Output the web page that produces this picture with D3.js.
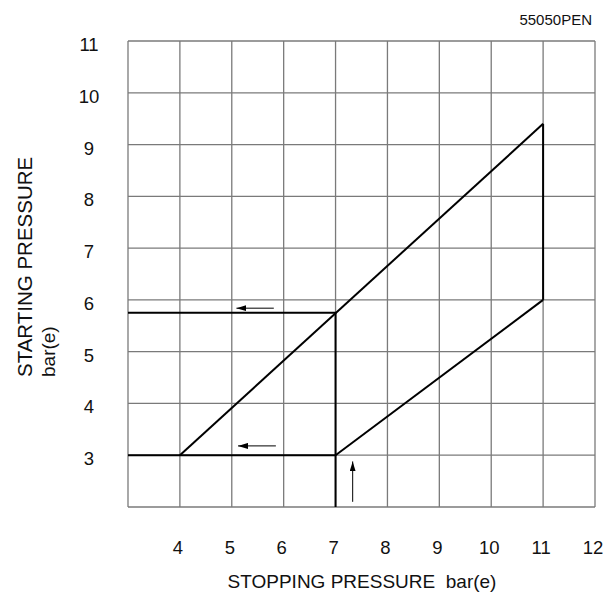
<!DOCTYPE html>
<html>
<head>
<meta charset="utf-8">
<script src="https://cdn.jsdelivr.net/npm/d3@7"></script>
<style>
  body { margin: 0; background: #fff; }
  text { font-family: Arial, "Liberation Sans", sans-serif; fill: #111; }
</style>
</head>
<body>
<div id="theChart"></div>
<script>
// values
const xTicks = [4, 5, 6, 7, 8, 9, 10, 11, 12]
const yTicks = [3, 4, 5, 6, 7, 8, 9, 10, 11]
const gridX = [3, 4, 5, 6, 7, 8, 9, 10, 11, 12]
const gridY = [2, 3, 4, 5, 6, 7, 8, 9, 10, 11]

const startLine = [[4, 3], [11, 9.4]]
const stopLine = [[7, 3], [11, 6]]
const maxStopLine = [[11, 6], [11, 9.4]]
const minStartLine = [[3, 3], [7, 3]]
const exampleLine = [[3, 5.75], [7, 5.75], [7, 2]]

// arrows: [x1, y1] -> [x2, y2] (head at second point)
const arrows = [
	[[5.81, 5.84], [5.09, 5.84]],
	[[5.85, 3.18], [5.12, 3.18]],
	[[7.33, 2.1], [7.33, 2.88]],
]

const w = 610
const h = 599

const svg = d3
	.select("#theChart")
	.append("svg")
	.attr("width", w)
	.attr("height", h)

const x = d3.scaleLinear().domain([3, 12]).range([128, 595])
const y = d3.scaleLinear().domain([2, 11]).range([507, 41])

svg.append("defs")
	.append("marker")
	.attr("id", "head")
	.attr("viewBox", "0 0 10 6")
	.attr("refX", 10)
	.attr("refY", 3)
	.attr("markerWidth", 10)
	.attr("markerHeight", 6)
	.attr("markerUnits", "userSpaceOnUse")
	.attr("orient", "auto")
	.append("path")
	.attr("d", "M0,0 L10,3 L0,6 Z")
	.attr("fill", "#000")

// grid
svg.append("g")
	.selectAll("line")
	.data(gridX)
	.enter()
	.append("line")
	.attr("x1", d => x(d))
	.attr("x2", d => x(d))
	.attr("y1", y(2))
	.attr("y2", y(11))
	.attr("stroke", "#7a7a7a")
	.attr("stroke-width", 1.3)

svg.append("g")
	.selectAll("line")
	.data(gridY)
	.enter()
	.append("line")
	.attr("y1", d => y(d))
	.attr("y2", d => y(d))
	.attr("x1", x(3))
	.attr("x2", x(12))
	.attr("stroke", "#7a7a7a")
	.attr("stroke-width", 1.3)

// tick labels
svg.append("g")
	.selectAll("text")
	.data(xTicks)
	.enter()
	.append("text")
	.attr("x", d => x(d) - 2)
	.attr("y", 554)
	.attr("text-anchor", "middle")
	.style("font-size", "18.5px")
	.text(d => d)

svg.append("g")
	.selectAll("text")
	.data(yTicks)
	.enter()
	.append("text")
	.attr("x", 89)
	.attr("y", d => y(d) + 10)
	.attr("text-anchor", "middle")
	.style("font-size", "18.5px")
	.text(d => d)

// data lines
const line = d3.line().x(d => x(d[0])).y(d => y(d[1]))
;[startLine, stopLine, maxStopLine, minStartLine, exampleLine].forEach(pts => {
	svg.append("path")
		.attr("d", line(pts))
		.attr("fill", "none")
		.attr("stroke", "#000")
		.attr("stroke-width", 2)
})

svg.append("g")
	.selectAll("line")
	.data(arrows)
	.enter()
	.append("line")
	.attr("x1", d => x(d[0][0]))
	.attr("y1", d => y(d[0][1]))
	.attr("x2", d => x(d[1][0]))
	.attr("y2", d => y(d[1][1]))
	.attr("stroke", "#000")
	.attr("stroke-width", 1)
	.attr("marker-end", "url(#head)")

// titles
svg.append("text")
	.attr("x", 592)
	.attr("y", 25)
	.attr("text-anchor", "end")
	.style("font-size", "15px")
	.text("55050PEN")

svg.append("text")
	.attr("x", 362)
	.attr("y", 588)
	.attr("text-anchor", "middle")
	.style("font-size", "19px")
	.style("white-space", "pre")
	.text("STOPPING PRESSURE  bar(e)")

svg.append("text")
	.attr("transform", "translate(32, 377) rotate(-90)")
	.style("font-size", "20.5px")
	.text("STARTING PRESSURE")

svg.append("text")
	.attr("transform", "translate(55, 377) rotate(-90)")
	.style("font-size", "19px")
	.text("bar(e)")
</script>
</body>
</html>
